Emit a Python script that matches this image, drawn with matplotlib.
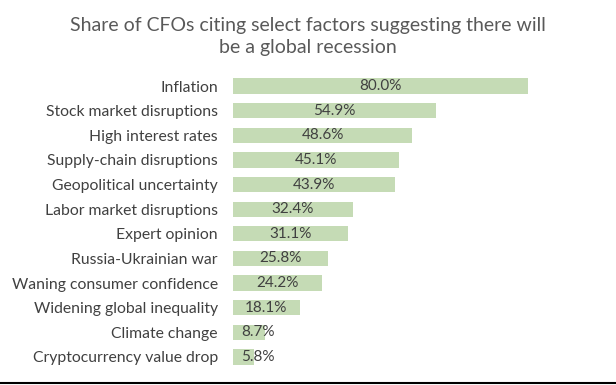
import matplotlib.pyplot as plt
from matplotlib.lines import Line2D

plt.rcParams['font.family'] = ['Lato', 'DejaVu Sans']

factors = ['Inflation', 'Stock market disruptions', 'High interest rates',
           'Supply-chain disruptions', 'Geopolitical uncertainty',
           'Labor market disruptions', 'Expert opinion', 'Russia-Ukrainian war',
           'Waning consumer confidence', 'Widening global inequality',
           'Climate change', 'Cryptocurrency value drop']
shares = [80.0, 54.9, 48.6, 45.1, 43.9, 32.4, 31.1, 25.8, 24.2, 18.1, 8.7, 5.8]

fig = plt.figure(figsize=(6.16, 3.85), dpi=100)
# axes placed in pixel terms: left 233, right 602, top 73.7, bottom 369.3
ax = fig.add_axes([233/616, 1 - 369.3/385, (602-233)/616, (369.3-73.7)/385])

ypos = list(range(len(factors)))
ax.barh(ypos, shares, height=0.62, color='#c5dbb5')
ax.set_ylim(len(factors) - 0.5, -0.5)
ax.set_xlim(0, 100)

for y, v in zip(ypos, shares):
    if v < 15:
        ax.text(2.2, y, f'{v:.1f}%', ha='left', va='center', fontsize=11, color='#404040')
    else:
        ax.text(v / 2, y, f'{v:.1f}%', ha='center', va='center', fontsize=11, color='#404040')

ax.set_yticks(ypos)
ax.set_yticklabels(factors, fontsize=11.3, color='#404040')
ax.tick_params(axis='y', length=0, pad=10.8)
ax.set_xticks([])
for s in ax.spines.values():
    s.set_visible(False)

fig.text(0.5, 1 - 25/385, 'Share of CFOs citing select factors suggesting there will',
         ha='center', va='center', fontsize=14, color='#595959')
fig.text(0.5, 1 - 47/385, 'be a global recession',
         ha='center', va='center', fontsize=14, color='#595959')

fig.add_artist(Line2D([0, 1], [1 - 383/385, 1 - 383/385], color='black', lw=1.5))

fig.savefig('out.png', dpi=100)
